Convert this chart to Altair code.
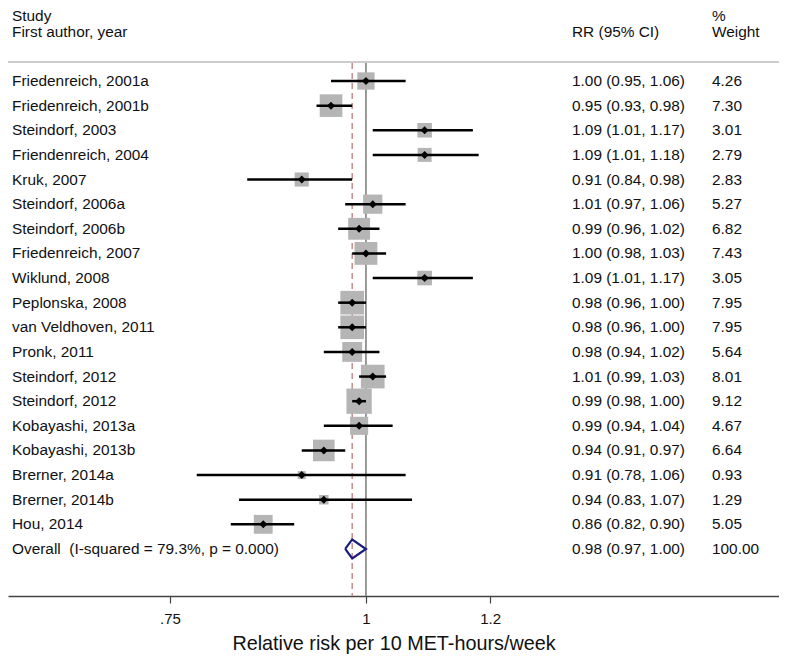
import altair as alt
import pandas as pd

studies = ["Friedenreich, 2001a", "Friedenreich, 2001b", "Steindorf, 2003", "Friendenreich, 2004",
           "Kruk, 2007", "Steindorf, 2006a", "Steindorf, 2006b", "Friedenreich, 2007", "Wiklund, 2008",
           "Peplonska, 2008", "van Veldhoven, 2011", "Pronk, 2011", "Steindorf, 2012", "Steindorf, 2012",
           "Kobayashi, 2013a", "Kobayashi, 2013b", "Brerner, 2014a", "Brerner, 2014b", "Hou, 2014"]
rr = [1.00, 0.95, 1.09, 1.09, 0.91, 1.01, 0.99, 1.00, 1.09, 0.98, 0.98, 0.98, 1.01, 0.99, 0.99, 0.94, 0.91, 0.94, 0.86]
lo = [0.95, 0.93, 1.01, 1.01, 0.84, 0.97, 0.96, 0.98, 1.01, 0.96, 0.96, 0.94, 0.99, 0.98, 0.94, 0.91, 0.78, 0.83, 0.82]
hi = [1.06, 0.98, 1.17, 1.18, 0.98, 1.06, 1.02, 1.03, 1.17, 1.00, 1.00, 1.02, 1.03, 1.00, 1.04, 0.97, 1.06, 1.07, 0.90]
weights = [4.26, 7.30, 3.01, 2.79, 2.83, 5.27, 6.82, 7.43, 3.05, 7.95, 7.95, 5.64, 8.01, 9.12, 4.67, 6.64, 0.93, 1.29, 5.05]

overall_label = "Overall\u00a0\u00a0(I-squared = 79.3%, p = 0.000)"
overall_rr, overall_lo, overall_hi, overall_w = 0.98, 0.97, 1.00, 100.00
null_value = 1.0

tick_values = [0.75, 1.0, 1.2]
tick_labels = [".75", "1", "1.2"]
x_title = "Relative risk per 10 MET-hours/week"

FONT = "Liberation Sans"
FS = 15.4
W, H = 771, 588
ROW0, STEP = 73, 24.63

n = len(studies)
df = pd.DataFrame({
    "row": list(range(n)),
    "study": studies,
    "rr": rr, "lo": lo, "hi": hi, "w": weights,
    "rr_text": [f"{a:.2f} ({b:.2f}, {c:.2f})" for a, b, c in zip(rr, lo, hi)],
    "w_text": [f"{x:.2f}" for x in weights],
})
txt = pd.concat([df[["row", "study", "rr_text", "w_text"]], pd.DataFrame({
    "row": [n], "study": [overall_label],
    "rr_text": [f"{overall_rr:.2f} ({overall_lo:.2f}, {overall_hi:.2f})"],
    "w_text": [f"{overall_w:.2f}"]})], ignore_index=True)

hh = 9.5 / STEP
dia = pd.DataFrame({
    "x": [overall_lo, overall_rr, overall_hi, overall_rr, overall_lo],
    "row": [n, n - hh, n, n + hh, n],
    "ord": [0, 1, 2, 3, 4],
})
refs = pd.DataFrame({"x": [null_value, overall_rr], "kind": ["null", "overall"]})

ymin = -ROW0 / STEP
ymax = (H - ROW0) / STEP
xscale = alt.Scale(type="log", domain=[0.5912, 1.834], nice=False, zero=False)
yscale = alt.Scale(domain=[ymin, ymax], reverse=True, nice=False, zero=False)

label_expr = " : ".join(
    [f"datum.value == {v} ? '{l}'" for v, l in zip(tick_values, tick_labels)]) + " : ''"
xaxis = alt.Axis(values=tick_values, labelExpr=label_expr, title=x_title, grid=False,
                 titleFont=FONT, titleFontSize=19.8, titleFontWeight="normal", titleColor="#111",
                 labelFont=FONT, labelFontSize=15, labelColor="#111",
                 domainColor="#444", domainWidth=1.3, tickColor="#444", tickWidth=1.2,
                 tickSize=7, labelPadding=8, titlePadding=7, labelFlush=False)


def X(field):
    return alt.X(field, type="quantitative", scale=xscale, axis=xaxis)


def Y(field):
    return alt.Y(field, type="quantitative", scale=yscale, axis=None)


top_line = alt.Chart(refs).mark_rule(color="#c8c8c8", strokeWidth=1.5).encode(
    x=alt.value(0), x2=alt.value(W), y=alt.value(54))

null_line = alt.Chart(refs).transform_filter("datum.kind == 'null'").mark_rule(
    color="#808080", strokeWidth=1.6).encode(x=X("x"), y=alt.value(55), y2=alt.value(H))
ov_line = alt.Chart(refs).transform_filter("datum.kind == 'overall'").mark_rule(
    color="#c98a8a", strokeWidth=1.5, strokeDash=[6, 4]).encode(x=X("x"), y=alt.value(55), y2=alt.value(H))

boxes = alt.Chart(df).mark_square(color="#b5b5b5", opacity=1).encode(
    x=X("rr"), y=Y("row"),
    size=alt.Size("w:Q", scale=alt.Scale(type="linear", domain=[0, 9.12], range=[0, 640], zero=True), legend=None))

ci = alt.Chart(df).mark_rule(color="black", strokeWidth=2.5).encode(
    x=X("lo"), x2="hi", y=Y("row"))

pts = alt.Chart(df).mark_point(shape="diamond", filled=True, color="black", size=64, opacity=1).encode(
    x=X("rr"), y=Y("row"))

diamond = alt.Chart(dia).mark_line(color="#1c1c7c", strokeWidth=2.2).encode(
    x=X("x"), y=Y("row"), order="ord:Q")

def col(field, xpos):
    return alt.Chart(txt).mark_text(align="left", baseline="middle", font=FONT, fontSize=FS, color="#111").encode(
        x=alt.value(xpos), y=Y("row"), text=f"{field}:N")

headers = pd.DataFrame({
    "text": ["Study", "First author, year", "RR (95% CI)", "%", "Weight"],
    "hx": [4, 4, 564, 704, 704],
    "hy": [1, 24, 24, 1, 24],
    "base": ["top", "middle", "middle", "top", "middle"],
})
hdr_parts = []
for _, r in headers.iterrows():
    hdr_parts.append(alt.Chart(headers[headers.text == r.text]).mark_text(
        align="left", baseline=r.base, font=FONT, fontSize=FS, color="#111").encode(
        x=alt.value(int(r.hx)), y=alt.value(int(r.hy)), text="text:N"))

chart = alt.layer(top_line, null_line, ov_line, boxes, ci, pts, diamond,
                  col("study", 4), col("rr_text", 564), col("w_text", 704), *hdr_parts).properties(
    width=W, height=H,
    autosize=alt.AutoSizeParams(type="none"),
    padding={"left": 0, "top": 0, "right": 0, "bottom": 60},
).configure_view(stroke=None).resolve_scale(x="shared", y="shared")

chart.save("out.html", embed_options={"renderer": "svg", "actions": False})
